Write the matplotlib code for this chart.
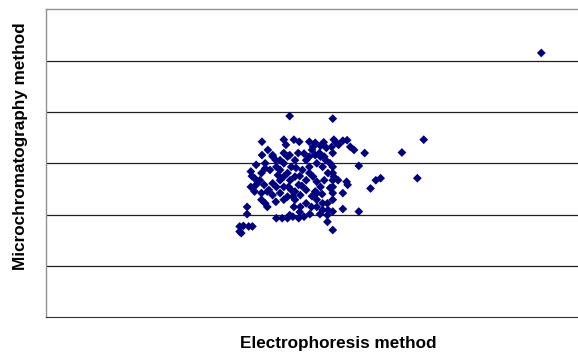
import matplotlib
matplotlib.use("Agg")
import matplotlib.pyplot as plt

# values (arbitrary units, no tick labels in the source)
electrophoresis = [
    93.1, 45.8, 53.9, 71.0, 66.9, 59.9, 40.6, 44.7, 46.6, 47.6,
    49.5, 50.6, 51.6, 52.7, 53.7, 54.1, 55.0, 55.8, 56.6, 57.2,
    57.9, 58.8, 61.0, 62.0, 62.9, 69.8, 58.8, 55.8, 55.8, 56.5,
    53.9, 52.9, 52.9, 53.9, 53.9, 53.9, 53.9, 53.9, 53.9, 53.9,
    53.9, 40.6, 42.6, 44.0, 45.8, 46.8, 48.5, 49.5, 50.6, 51.6,
    39.5, 38.5, 39.2, 40.5, 41.2, 38.5, 39.2, 40.5, 41.6, 42.6,
    40.5, 41.6, 41.2, 37.8, 37.8, 36.4, 37.1, 38.1, 38.8, 36.7,
    36.4, 43.3, 44.4, 45.4, 46.4, 47.5, 48.5, 45.8, 48.9, 49.9,
    50.9, 52.0, 53.0, 47.8, 46.4, 43.3, 44.0, 44.7, 45.4, 46.1,
    46.8, 44.0, 42.6, 44.7, 46.1, 47.5, 48.9, 50.2, 50.9, 51.6,
    50.6, 49.5, 50.9, 52.0, 48.2, 49.5, 45.4, 44.7, 43.3, 41.9,
    44.0, 45.4, 46.8, 50.9, 52.3, 42.6, 50.2, 51.4, 41.2, 40.2,
    39.5, 47.8, 46.8, 50.9, 52.0, 52.9, 56.7, 54.1, 54.9, 52.3,
    53.0, 53.4, 43.2, 44.7, 47.4, 48.9, 50.0, 52.6, 45.9, 47.7,
    48.1, 45.6, 43.6, 42.1, 47.0, 48.9, 50.0, 39.8, 38.7, 41.0,
    44.7, 43.2, 47.7, 49.6, 51.5, 54.5, 52.2, 45.1, 41.7, 53.4,
    51.9, 46.6,
]
microchromatography = [
    51.5, 39.2, 38.7, 34.6, 32.1, 32.0, 34.2, 34.6, 34.6, 34.2,
    34.2, 34.0, 33.4, 33.0, 33.2, 34.6, 33.6, 34.4, 34.5, 33.2,
    32.6, 29.5, 25.1, 26.7, 27.1, 27.1, 20.6, 21.1, 24.2, 26.4,
    17.0, 18.6, 19.9, 20.6, 22.9, 24.2, 25.4, 26.7, 28.1, 29.3,
    32.0, 31.6, 31.6, 30.6, 31.6, 30.6, 31.9, 31.3, 31.6, 31.3,
    29.7, 28.4, 27.1, 28.1, 29.0, 25.4, 24.5, 24.2, 24.5, 23.8,
    22.9, 21.5, 22.2, 21.5, 20.1, 17.7, 17.8, 17.7, 17.7, 16.4,
    16.7, 19.3, 19.3, 19.3, 19.6, 19.3, 19.6, 19.9, 22.2, 21.5,
    21.5, 20.9, 20.9, 23.8, 23.5, 29.3, 28.7, 30.0, 28.1, 29.3,
    27.4, 26.7, 26.1, 25.4, 24.8, 25.8, 26.7, 27.4, 26.4, 25.4,
    24.5, 29.3, 30.0, 29.3, 28.7, 28.1, 31.3, 27.4, 25.4, 24.8,
    24.2, 23.5, 22.9, 24.2, 26.7, 31.3, 33.2, 32.0, 30.0, 26.7,
    25.8, 21.5, 24.5, 22.9, 22.2, 22.2, 25.8, 27.4, 26.7, 31.3,
    28.1, 30.0, 30.6, 32.0, 32.0, 30.6, 32.6, 30.6, 26.7, 27.5,
    25.6, 25.4, 27.7, 28.7, 29.1, 24.8, 23.6, 26.4, 27.5, 25.8,
    22.9, 22.5, 20.5, 20.1, 20.1, 34.1, 34.1, 33.6, 32.6, 25.2,
    24.0, 21.5,
]

fig = plt.figure(figsize=(5.78, 3.54), dpi=100)
ax = fig.add_axes([0.0796, 0.1037, 0.9204, 0.87])

ax.scatter(electrophoresis, microchromatography, marker="D", s=20,
           color="#000080", edgecolors="none", zorder=3)

ax.set_xlim(0, 100)
ax.set_ylim(0, 60)
ax.set_yticks([10, 20, 30, 40, 50])
ax.set_xticks([])
ax.tick_params(left=False, labelleft=False)
ax.grid(axis="y", color="#202020", linewidth=0.9)

for side in ["left", "top"]:
    ax.spines[side].set_color("#909090")
    ax.spines[side].set_linewidth(1.0)
ax.spines["bottom"].set_color("#303030")
ax.spines["right"].set_visible(False)

fig.text(0.585, 0.030, "Electrophoresis method", ha="center", va="center",
         fontsize=12.3, fontweight="bold", family="Liberation Sans")
fig.text(0.036, 0.586, "Microchromatography method", ha="center", va="center",
         rotation=90, fontsize=12.3, fontweight="bold", family="Liberation Sans")

fig.savefig("out.png", dpi=100)
